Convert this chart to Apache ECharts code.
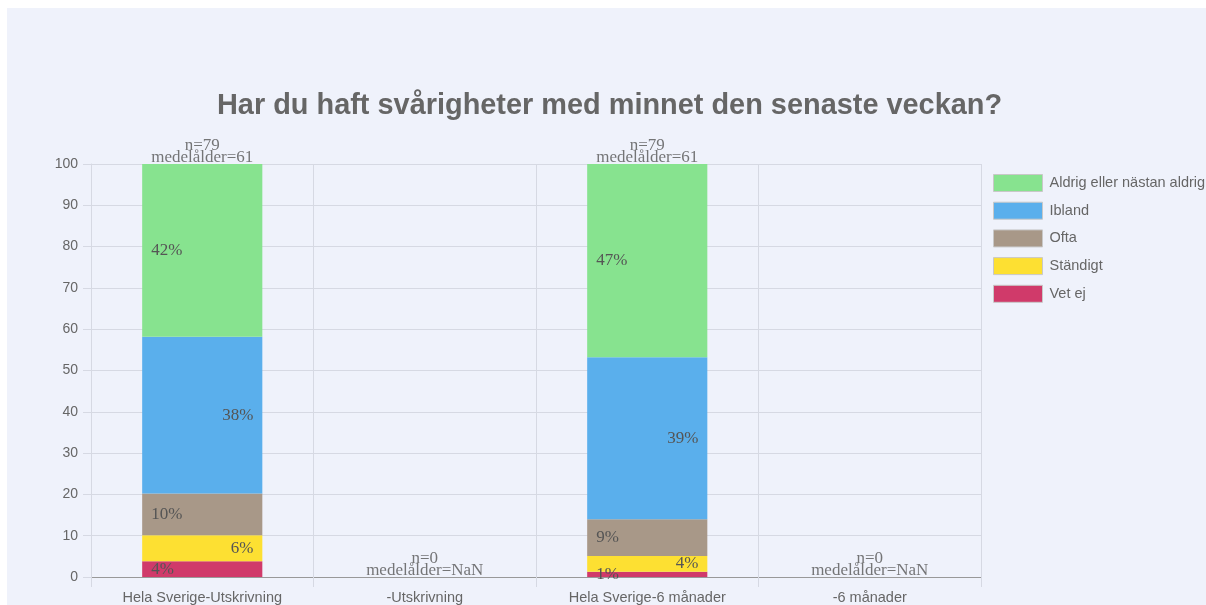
<!DOCTYPE html>
<html>
<head>
<meta charset="utf-8">
<script src="https://cdn.jsdelivr.net/npm/echarts@6/dist/echarts.min.js"></script>
<style>
  html, body { margin: 0; padding: 0; background: #fff; }
  #chart { position: absolute; left: 7px; top: 8px; width: 1199px; height: 597px; background: #eff2fb; }
</style>
</head>
<body>
<div id="chart"></div>
<script>
// kategorier och data (andel i procent)
const categories = ['Hela Sverige-Utskrivning', '-Utskrivning', 'Hela Sverige-6 månader', '-6 månader']
const seriesNames = ['Vet ej', 'Ständigt', 'Ofta', 'Ibland', 'Aldrig eller nästan aldrig']
const vetEj = [3.8, 0, 1.3, 0]
const standigt = [6.3, 0, 3.8, 0]
const ofta = [10.1, 0, 8.9, 0]
const ibland = [38.0, 0, 39.2, 0]
const aldrig = [41.8, 0, 46.8, 0]
const nValues = [79, 0, 79, 0]
const medelalder = ['61', 'NaN', '61', 'NaN']
const totals = [100, 0, 100, 0]

const colors = ['#d03a6a', '#fde032', '#a89888', '#5aafec', '#87e38f']
const labelSides = ['insideLeft', 'insideRight', 'insideLeft', 'insideRight', 'insideLeft']
const values = [vetEj, standigt, ofta, ibland, aldrig]

const chart = echarts.init(document.getElementById('chart'))

const barSeries = seriesNames.map((name, i) => ({
  name,
  type: 'bar',
  stack: 'total',
  barCategoryGap: '46%',
  data: values[i].map(v => (v > 0 ? v : null)),
  itemStyle: { color: colors[i] },
  label: {
    show: true,
    position: labelSides[i],
    distance: 9,
    fontFamily: 'Liberation Serif',
    fontSize: 17,
    color: '#555',
    formatter: p => Math.round(p.value) + '%'
  }
}))

const infoSeries = {
  type: 'scatter',
  symbolSize: 0,
  silent: true,
  z: 10,
  data: totals,
  label: {
    show: true,
    position: 'top',
    distance: 0,
    fontFamily: 'Liberation Serif',
    fontSize: 17,
    lineHeight: 12,
    color: '#555',
    align: 'center',
    formatter: p => 'n=' + nValues[p.dataIndex] + '\nmedelålder=' + medelalder[p.dataIndex]
  }
}

chart.setOption({
  backgroundColor: '#eff2fb',
  animation: false,
  title: {
    text: 'Har du haft svårigheter med minnet den senaste veckan?',
    left: 205,
    top: 79,
    textStyle: { fontFamily: 'Liberation Sans', fontSize: 28.9, fontWeight: 'bold', color: '#666' }
  },
  legend: {
    orient: 'vertical',
    left: 981,
    top: 161,
    itemWidth: 49,
    itemHeight: 17,
    itemGap: 9.7,
    icon: 'rect',
    data: seriesNames.slice().reverse(),
    itemStyle: { borderColor: '#c8c8c8', borderWidth: 1 },
    textStyle: { fontFamily: 'Liberation Sans', fontSize: 14.5, color: '#666', padding: [0, 0, 0, 2] }
  },
  grid: { left: 84, width: 890, top: 156, height: 416, containLabel: false },
  xAxis: {
    type: 'category',
    data: categories,
    axisLine: { lineStyle: { color: '#999' } },
    axisTick: { show: true, length: 10, lineStyle: { color: '#d6d9e3' } },
    splitLine: { show: true, lineStyle: { color: '#d6d9e3' } },
    axisLabel: { fontFamily: 'Liberation Sans', fontSize: 14.5, color: '#666', margin: 13 }
  },
  yAxis: {
    type: 'value',
    min: 0,
    max: 100,
    interval: 10,
    axisLine: { show: true, lineStyle: { color: '#d6d9e3' } },
    axisTick: { show: true, length: 8, lineStyle: { color: '#d6d9e3' } },
    splitLine: { show: true, lineStyle: { color: '#d6d9e3' } },
    axisLabel: { fontFamily: 'Liberation Sans', fontSize: 14, color: '#666', margin: 13 }
  },
  series: [...barSeries, infoSeries]
})
</script>
</body>
</html>
